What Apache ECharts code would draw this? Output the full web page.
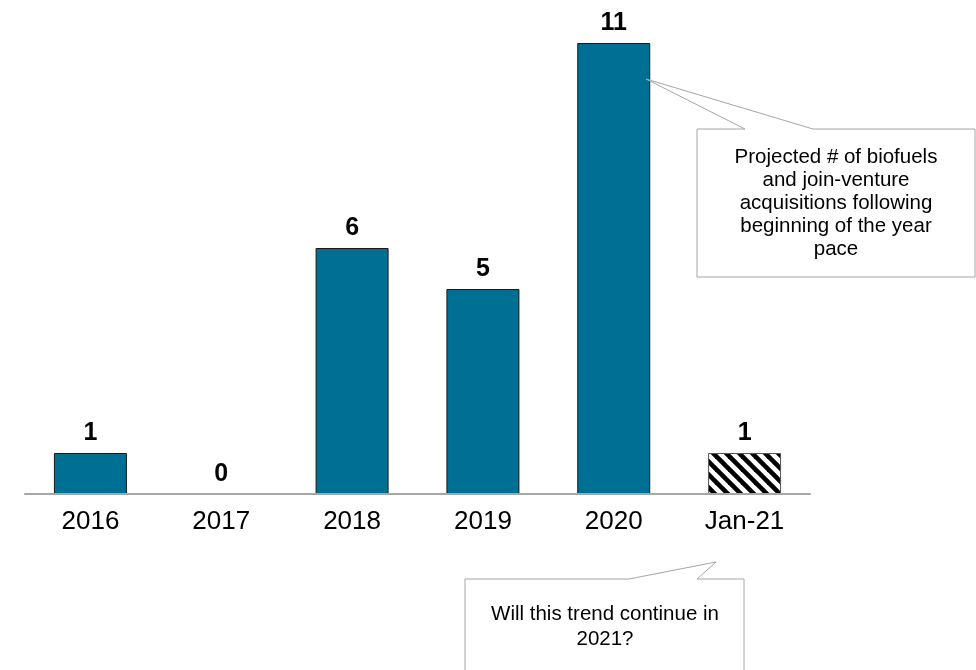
<!DOCTYPE html>
<html>
<head>
<meta charset="utf-8">
<script src="https://cdn.jsdelivr.net/npm/echarts@6/dist/echarts.min.js"></script>
<style>
html,body{margin:0;padding:0;background:#fff;}
#chart{width:976px;height:670px;}
</style>
</head>
<body>
<div id="chart"></div>
<script>
const categories = ['2016', '2017', '2018', '2019', '2020', 'Jan-21'];
const values = [1, 0, 6, 5, 11, 1];
const hatchedIndex = 5;
const callout1Lines = ['Projected # of biofuels', 'and join-venture', 'acquisitions following', 'beginning of the year', 'pace'];
const callout2Lines = ['Will this trend continue in', '2021?'];

const FONT = '"Liberation Sans", Arial, Helvetica, sans-serif';

// hatch pattern (diagonal "\" stripes)
const T = 13;
const pc = document.createElement('canvas');
pc.width = T; pc.height = T;
const g = pc.getContext('2d');
g.fillStyle = '#fff';
g.fillRect(0, 0, T, T);
g.strokeStyle = '#000';
g.lineWidth = 4.6;
g.lineCap = 'square';
[-T, 0, T].forEach(o => {
  g.beginPath();
  g.moveTo(o - 3, -3);
  g.lineTo(o + T + 3, T + 3);
  g.stroke();
});

const barData = values.map((v, i) => {
  if (i === hatchedIndex) {
    return { value: v, itemStyle: { color: { image: pc, repeat: 'repeat' }, borderColor: '#555' } };
  }
  if (v === 0) {
    return { value: v, itemStyle: { borderWidth: 0 } };
  }
  return v;
});

const chart = echarts.init(document.getElementById('chart'));
chart.setOption({
  animation: false,
  backgroundColor: '#fff',
  grid: { left: 25, right: 166, top: 2, bottom: 176, containLabel: false },
  xAxis: {
    type: 'category',
    data: categories,
    z: 5,
    axisLine: { lineStyle: { color: '#a6a6a6', width: 2 } },
    axisTick: { show: false },
    axisLabel: { fontFamily: FONT, fontSize: 26, color: '#000', margin: 15 }
  },
  yAxis: {
    type: 'value', min: 0, max: 12, interval: 1,
    show: false
  },
  series: [{
    type: 'bar',
    data: barData,
    barWidth: 73,
    itemStyle: { color: '#006f94', borderColor: '#1a1a1a', borderWidth: 1 },
    label: {
      show: true, position: 'top', distance: 7,
      fontFamily: FONT, fontSize: 25, fontWeight: 'bold', color: '#000'
    }
  }],
  graphic: [
    {
      type: 'polygon', z: 100,
      shape: { points: [[697,129],[745,129],[646,79],[813,129],[975,129],[975,277],[697,277]] },
      style: { fill: '#fff', stroke: '#a6a6a6', lineWidth: 1 }
    },
    {
      type: 'text', z: 101, x: 836, y: 203,
      style: {
        text: callout1Lines.join('\n'), align: 'center', verticalAlign: 'middle',
        font: '20.5px ' + FONT, fill: '#000', lineHeight: 23
      }
    },
    {
      type: 'polygon', z: 100,
      shape: { points: [[465,579],[629,579],[716,562],[697,579],[744,579],[744,700],[465,700]] },
      style: { fill: '#fff', stroke: '#a6a6a6', lineWidth: 1 }
    },
    {
      type: 'text', z: 101, x: 605, y: 627,
      style: {
        text: callout2Lines.join('\n'), align: 'center', verticalAlign: 'middle',
        font: '20.5px ' + FONT, fill: '#000', lineHeight: 25
      }
    }
  ]
});
</script>
</body>
</html>
